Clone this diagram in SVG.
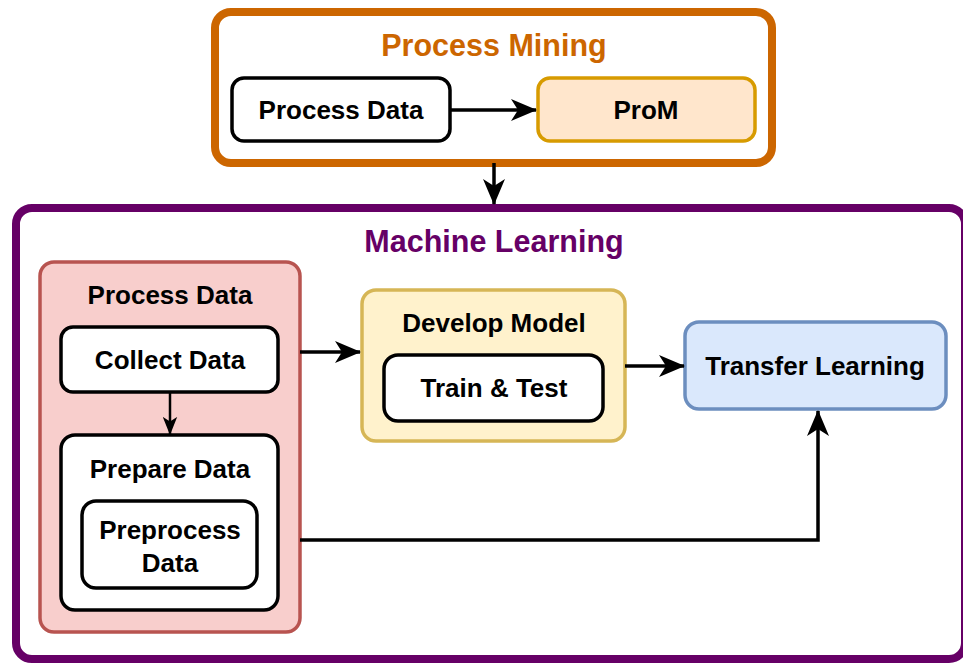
<svg xmlns="http://www.w3.org/2000/svg" width="963" height="664" viewBox="0 0 963 664">
<style>
text{font-family:"Liberation Sans",Arial,Helvetica,sans-serif;font-weight:bold;text-anchor:middle;fill:#000}
.title{font-size:30.5px}
.lbl{font-size:26px}
.conn{fill:none;stroke:#000;stroke-width:3.5}
.box{fill:#fff;stroke:#000;stroke-width:3.5}
</style>
<defs>
<marker id="arr" viewBox="0 0 26 22" refX="25" refY="11" markerWidth="26" markerHeight="22" markerUnits="userSpaceOnUse" orient="auto">
<path d="M0,0 L26,11 L0,22 L7,11 z" fill="#000"/>
</marker>
<marker id="arrS" viewBox="0 0 20 16" refX="19" refY="8" markerWidth="18" markerHeight="15" markerUnits="userSpaceOnUse" orient="auto">
<path d="M0,0 L20,8 L0,16 L5,8 z" fill="#000"/>
</marker>
</defs>
<rect width="963" height="664" fill="#fff"/>
<g id="process-mining">
<rect x="215" y="12" width="557" height="151" rx="16" fill="#fff" stroke="#CC6600" stroke-width="8"/>
<text class="title" x="494" y="56" style="fill:#CC6600">Process Mining</text>
</g>
<g id="pm-process-data">
<rect class="box" x="232" y="78" width="218" height="63" rx="12"/>
<text class="lbl" x="341" y="119">Process Data</text>
</g>
<g id="prom">
<rect x="538" y="78" width="217" height="63" rx="12" fill="#FFE6CC" stroke="#D79B00" stroke-width="3.5"/>
<text class="lbl" x="646" y="119">ProM</text>
</g>
<g id="machine-learning">
<rect x="16" y="208" width="949" height="451" rx="16" fill="#fff" stroke="#660066" stroke-width="8"/>
<text class="title" x="494" y="252" style="fill:#660066">Machine Learning</text>
</g>
<g id="ml-process-data">
<rect x="40" y="262" width="260" height="370" rx="14" fill="#F8CECC" stroke="#B85450" stroke-width="3.5"/>
<text class="lbl" x="170" y="304">Process Data</text>
</g>
<g id="collect-data">
<rect class="box" x="61" y="327" width="217" height="65" rx="12"/>
<text class="lbl" x="170" y="369">Collect Data</text>
</g>
<g id="prepare-data">
<rect class="box" x="61" y="435" width="217" height="175" rx="14"/>
<text class="lbl" x="170" y="478">Prepare Data</text>
</g>
<g id="preprocess-data">
<rect class="box" x="82" y="501" width="175" height="87" rx="14"/>
<text class="lbl" x="170" y="539">Preprocess</text>
<text class="lbl" x="170" y="572">Data</text>
</g>
<g id="develop-model">
<rect x="362" y="290" width="263" height="151" rx="14" fill="#FFF2CC" stroke="#D6B656" stroke-width="3.5"/>
<text class="lbl" x="494" y="332">Develop Model</text>
</g>
<g id="train-test">
<rect class="box" x="384" y="355" width="219" height="66" rx="14"/>
<text class="lbl" x="494" y="397">Train &amp; Test</text>
</g>
<g id="transfer-learning">
<rect x="685" y="322" width="261" height="87" rx="14" fill="#DAE8FC" stroke="#6C8EBF" stroke-width="3.5"/>
<text class="lbl" x="815" y="375">Transfer Learning</text>
</g>
<g id="connectors">
<path class="conn" d="M450,110 L536,110" marker-end="url(#arr)"/>
<path class="conn" d="M494,163 L494,204" marker-end="url(#arr)"/>
<path class="conn" d="M300,352 L360,352" marker-end="url(#arr)"/>
<path class="conn" d="M170,392 L170,434" style="stroke-width:2.5" marker-end="url(#arrS)"/>
<path class="conn" d="M625,366 L684,366" marker-end="url(#arr)"/>
<path class="conn" d="M300,540 L818,540 L818,411" marker-end="url(#arr)"/>
</g>
</svg>
